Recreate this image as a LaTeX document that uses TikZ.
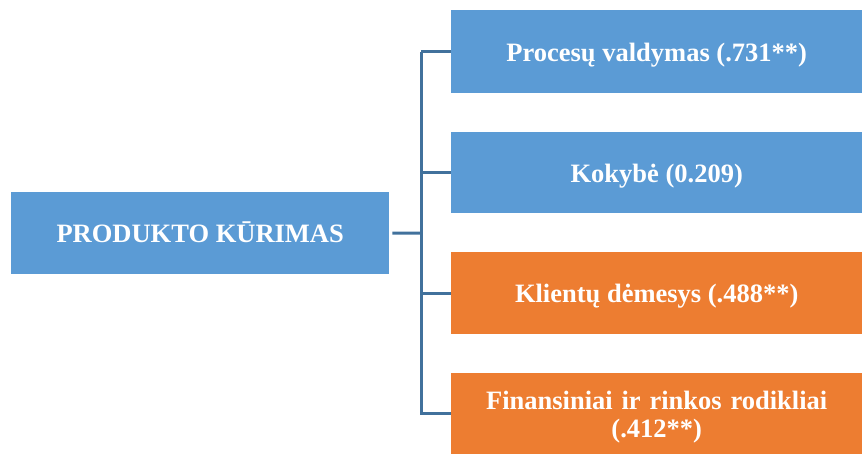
\documentclass[tikz,border=0pt]{standalone}
\usepackage{fontspec}
\setmainfont{Liberation Serif}
\definecolor{boxblue}{HTML}{5B9BD5}
\definecolor{boxorange}{HTML}{ED7D31}
\definecolor{linkblue}{HTML}{41719C}
\begin{document}
\begin{tikzpicture}[x=1pt,y=-1pt,
  item/.style={rectangle,inner sep=0pt,text=white,font=\bfseries\fontsize{26.5}{28}\selectfont,
    align=center,anchor=north west,text height=19pt,text depth=0pt},
  link/.style={draw=linkblue,line width=3pt}]
\useasboundingbox (0,0) rectangle (862,454);
\node[item,fill=boxblue,minimum width=378pt,minimum height=82pt] (root) at (11,192) {PRODUKTO KŪRIMAS};
\node[item,fill=boxblue,minimum width=411pt,minimum height=83pt] (a) at (451,10) {Procesų valdymas (.731**)};
\node[item,fill=boxblue,minimum width=411pt,minimum height=81pt] (b) at (451,132) {Kokybė (0.209)};
\node[item,fill=boxorange,minimum width=411pt,minimum height=82pt] (c) at (451,252) {Klientų dėmesys (.488**)};
\node[item,fill=boxorange,minimum width=411pt,minimum height=81pt,text width=400pt,
  text height=19pt,text depth=28pt] (d) at (451,373) {Finansiniai ir rinkos rodikliai\\(.412**)};
\coordinate (hub) at (421,233);
\draw[link] ([xshift=3pt]root.east) -- (hub);
\draw[link] (a.west) -| (hub |- a.west);
\draw[link] (a.west -| hub) -- (d.west -| hub) -- (d.west);
\draw[link] (b.west -| hub) -- (b.west);
\draw[link] (c.west -| hub) -- (c.west);
\end{tikzpicture}
\end{document}
